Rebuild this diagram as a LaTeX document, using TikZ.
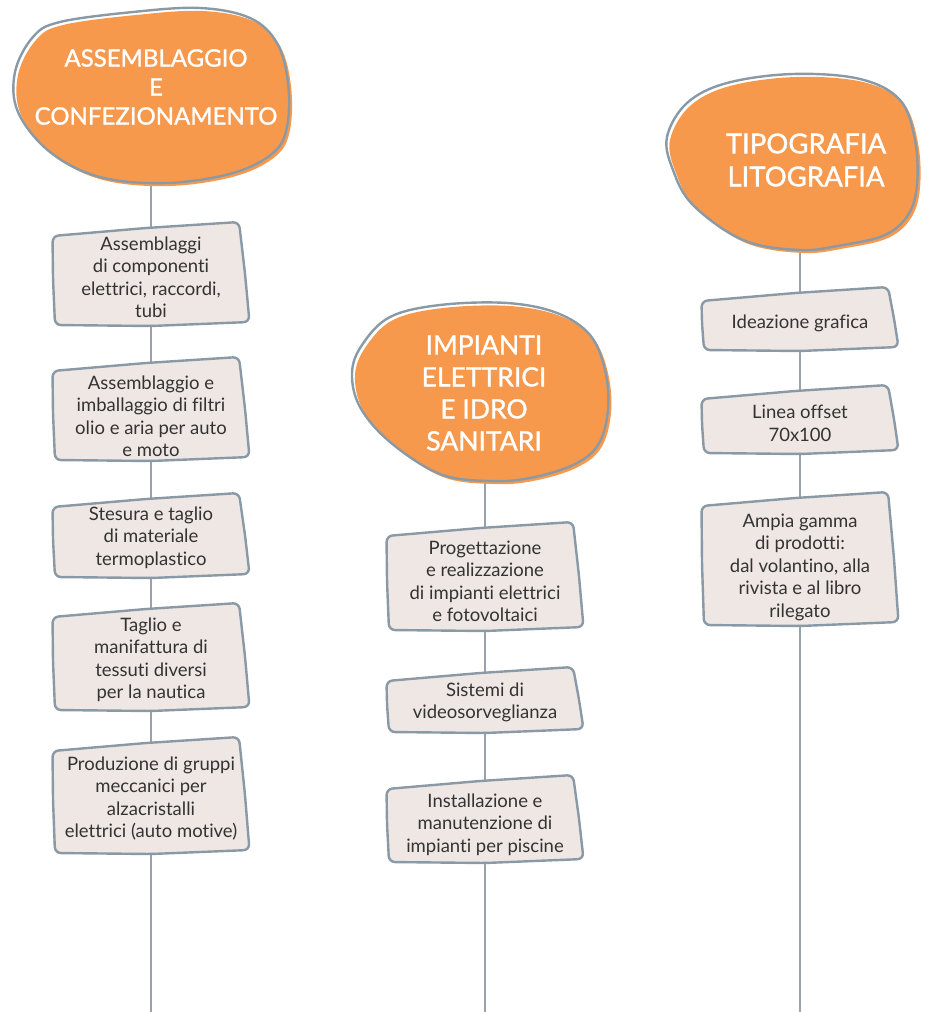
\documentclass[tikz,border=0pt]{standalone}
\usepackage{fontspec}
\setmainfont{Lato}[Ligatures=NoCommon]
\newfontfamily\blobfont{Lato}[Ligatures=NoCommon, FakeBold=1.2]
\usetikzlibrary{calc}
\definecolor{blobfill}{HTML}{F7994D}
\definecolor{edgegrey}{HTML}{8A99A6}
\definecolor{cardfill}{HTML}{EEE7E3}
\definecolor{inkgrey}{HTML}{333333}
\definecolor{conngrey}{HTML}{97A2AC}
\pgfdeclarelayer{lines}
\pgfdeclarelayer{shapes}
\pgfsetlayers{lines,shapes,main}
\tikzset{
  cardline/.style={draw=edgegrey, line width=2.4pt, fill=cardfill, rounded corners=6pt, line join=round},
  cardtext/.style={font=\fontsize{18.5}{22.5}\selectfont, text=inkgrey, align=center, inner sep=0pt},
  blobtext/.style={text=white, align=center, inner sep=0pt},
  blobline/.style={draw=edgegrey, line width=2.4pt},
  blobfillst/.style={fill=blobfill, draw=none},
  conn/.style={draw=conngrey, line width=1.1pt},
}
% #1 node name, #2 distance from centre to top, #3 distance from centre to bottom
\newcommand\handbox[3]{%
  \begin{pgfonlayer}{shapes}
  \draw[cardline] ($(#1.center)+(-98.5,{-#2+14})$)
     -- ($(#1.center)+(-5,{-#2+6})$)
     -- ($(#1.center)+(88,-#2)$)
     -- ($(#1.center)+(94,{(#3-#2)/2})$)
     -- ($(#1.center)+(98.5,{#3-3})$)
     -- ($(#1.center)+(0,{#3+1})$)
     -- ($(#1.center)+(-96,#3)$)
     -- ($(#1.center)+(-98,{(#3-#2)/2+5})$)
     -- cycle;
  \end{pgfonlayer}}
\begin{document}
\begin{tikzpicture}[x=1pt, y=-1pt]
\useasboundingbox (0,0) rectangle (932,1012);

% ---------- blobs ----------
\begin{pgfonlayer}{shapes}
\fill[blobfillst, xshift=3pt, yshift=-3pt] plot[smooth cycle, tension=0.6] coordinates {(15,72) (33,37) (60,22) (133,12) (200,8) (250,18) (277,43) (288,83) (287,127) (273,153) (233,173) (167,183) (100,177) (50,152) (18,112)};
\draw[blobline] plot[smooth cycle, tension=0.6] coordinates {(15,72) (33,37) (60,22) (133,12) (200,8) (250,18) (277,43) (288,83) (287,127) (273,153) (233,173) (167,183) (100,177) (50,152) (18,112)};

\fill[blobfillst, xshift=3pt, yshift=-3pt] plot[smooth cycle, tension=0.6] coordinates {(352,373) (362,345) (390,317) (440,305) (507,303) (557,313) (590,335) (605,370) (608,410) (598,445) (573,465) (530,478) (490,481) (440,474) (390,442) (360,407)};
\draw[blobline] plot[smooth cycle, tension=0.6] coordinates {(352,373) (362,345) (390,317) (440,305) (507,303) (557,313) (590,335) (605,370) (608,410) (598,445) (573,465) (530,478) (490,481) (440,474) (390,442) (360,407)};

\fill[blobfillst, xshift=3pt, yshift=-3pt] plot[smooth cycle, tension=0.6] coordinates {(667,137) (687,103) (727,83) (793,74) (860,79) (900,100) (915,140) (917,185) (908,215) (885,235) (843,245) (800,250) (743,240) (693,205) (673,170)};
\draw[blobline] plot[smooth cycle, tension=0.6] coordinates {(667,137) (687,103) (727,83) (793,74) (860,79) (900,100) (915,140) (917,185) (908,215) (885,235) (843,245) (800,250) (743,240) (693,205) (673,170)};
\end{pgfonlayer}

\node[blobtext, font=\blobfont\fontsize{24}{29}\selectfont] (la) at (156,87) {ASSEMBLAGGIO\\E\\CONFEZIONAMENTO};
\node[blobtext, font=\blobfont\fontsize{26.5}{32}\selectfont] (ma) at (484,393) {IMPIANTI\\ELETTRICI\\E IDRO\\SANITARI};
\node[blobtext, font=\blobfont\fontsize{27.5}{33}\selectfont] (ra) at (806,160) {TIPOGRAFIA\\LITOGRAFIA};

% ---------- left column ----------
\node[cardtext] (l1) at (151,277.5) {Assemblaggi\\di componenti\\elettrici, raccordi,\\tubi};
\node[cardtext] (l2) at (151,416.5) {Assemblaggio e\\imballaggio di filtri\\olio e aria per auto\\e moto};
\node[cardtext] (l3) at (151,537.5) {Stesura e taglio\\di materiale\\termoplastico};
\node[cardtext] (l4) at (151,660) {Taglio e\\manifattura di\\tessuti diversi\\per la nautica};
\node[cardtext] (l5) at (151,798.5) {Produzione di gruppi\\meccanici per\\alzacristalli\\elettrici (auto motive)};
\handbox{l1}{55.5}{47.5}
\handbox{l2}{59.5}{43.5}
\handbox{l3}{44.5}{39.5}
\handbox{l4}{57}{50}
\handbox{l5}{61.5}{54.5}

% ---------- middle column ----------
\node[cardtext] (m1) at (485,581.5) {Progettazione\\e realizzazione\\di impianti elettrici\\e fotovoltaici};
\node[cardtext] (m2) at (485,702.5) {Sistemi di\\videosorveglianza};
\node[cardtext] (m3) at (485,824.5) {Installazione e\\manutenzione di\\impianti per piscine};
\handbox{m1}{59.5}{48.5}
\handbox{m2}{35.5}{29.5}
\handbox{m3}{49.5}{37.5}

% ---------- right column ----------
\node[cardtext] (r1) at (800,323) {Ideazione grafica};
\node[cardtext] (r2) at (800,423.5) {Linea offset\\70x100};
\node[cardtext] (r3) at (800,567) {Ampia gamma\\di prodotti:\\dal volantino, alla\\rivista e al libro\\rilegato};
\handbox{r1}{36}{27}
\handbox{r2}{38.5}{29.5}
\handbox{r3}{75}{58}

% ---------- connectors ----------
\coordinate (lend) at (151,1012);
\coordinate (mend) at (485,1012);
\coordinate (rend) at (800,1012);
\begin{pgfonlayer}{lines}
\draw[conn] (la.center -| l1.center) -- (l1.center);
\draw[conn] (l1.center) -- (l2.center);
\draw[conn] (l2.center) -- (l3.center);
\draw[conn] (l3.center) -- (l4.center);
\draw[conn] (l4.center) -- (l5.center);
\draw[conn] (l5.center) -- (lend);
\draw[conn] (ma.center -| m1.center) -- (m1.center);
\draw[conn] (m1.center) -- (m2.center);
\draw[conn] (m2.center) -- (m3.center);
\draw[conn] (m3.center) -- (mend);
\draw[conn] (ra.center -| r1.center) -- (r1.center);
\draw[conn] (r1.center) -- (r2.center);
\draw[conn] (r2.center) -- (r3.center);
\draw[conn] (r3.center) -- (rend);
\end{pgfonlayer}
\end{tikzpicture}
\end{document}
